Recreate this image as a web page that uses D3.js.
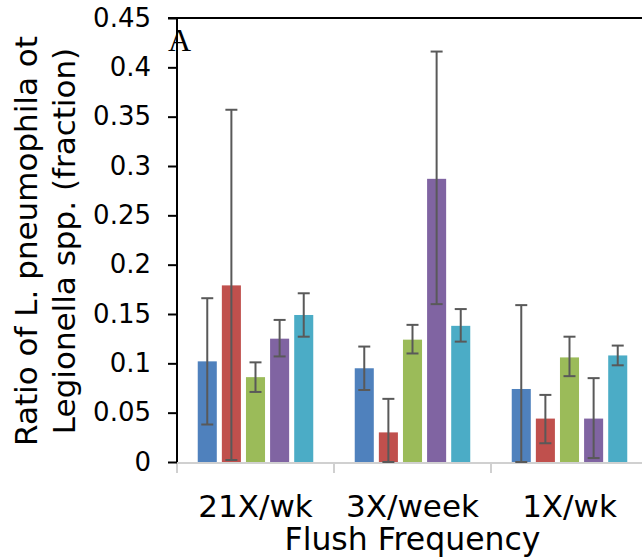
<!DOCTYPE html>
<html>
<head>
<meta charset="utf-8">
<script src="https://cdn.jsdelivr.net/npm/d3@7"></script>
<style>
  html, body { margin: 0; padding: 0; background: #fff; }
  svg { display: block; }
  text { fill: #000; }
</style>
</head>
<body>
<svg id="chart" width="642" height="559"></svg>
<script>
(function () {
  // ---------- data ----------
  const categories = ["21X/wk", "3X/week", "1X/wk"];
  const series = ["S1", "S2", "S3", "S4", "S5"];
  const colors = ["#4F81BD", "#C0504D", "#9BBB59", "#8064A2", "#4BACC6"];

  // mean value per series, one entry per category
  const means = [
    [0.102, 0.095, 0.074],
    [0.179, 0.030, 0.044],
    [0.086, 0.124, 0.106],
    [0.125, 0.287, 0.044],
    [0.149, 0.138, 0.108]
  ];
  // error bar top / bottom
  const errHigh = [
    [0.166, 0.117, 0.159],
    [0.357, 0.064, 0.068],
    [0.101, 0.139, 0.127],
    [0.144, 0.416, 0.085],
    [0.171, 0.155, 0.118]
  ];
  const errLow = [
    [0.038, 0.073, 0.000],
    [0.002, 0.000, 0.019],
    [0.071, 0.110, 0.087],
    [0.107, 0.160, 0.004],
    [0.127, 0.122, 0.098]
  ];
  const yTicks = [0, 0.05, 0.1, 0.15, 0.2, 0.25, 0.3, 0.35, 0.4, 0.45];

  // ---------- layout ----------
  const svg = d3.select("#chart");
  const left = 177, top = 18, bottom = 462, right = 648;

  const x = d3.scaleBand().domain(categories).range([left, right]).padding(0);
  const xs = d3.scaleBand().domain(series).range([0, x.bandwidth()])
    .paddingInner(0.21).paddingOuter(0.86);
  const y = d3.scaleLinear().domain([0, 0.45]).range([bottom, top]);

  // top frame line
  svg.append("line")
    .attr("x1", left - 9).attr("x2", 642)
    .attr("y1", top).attr("y2", top)
    .attr("stroke", "#000").attr("stroke-width", 2);

  // bars
  const rows = [];
  series.forEach((s, si) => {
    categories.forEach((c, ci) => {
      rows.push({ s, si, c, v: means[si][ci], hi: errHigh[si][ci], lo: errLow[si][ci] });
    });
  });

  svg.append("g").selectAll("rect").data(rows).join("rect")
    .attr("x", d => x(d.c) + xs(d.s))
    .attr("y", d => y(d.v))
    .attr("width", xs.bandwidth())
    .attr("height", d => y(0) - y(d.v))
    .attr("fill", d => colors[d.si]);

  // x axis (grey)
  const xAxis = svg.append("g");
  xAxis.append("line")
    .attr("x1", left).attr("x2", right)
    .attr("y1", bottom + 1).attr("y2", bottom + 1)
    .attr("stroke", "#d0d0d0").attr("stroke-width", 2);
  xAxis.selectAll("line.tk").data(categories).join("line")
    .attr("class", "tk")
    .attr("x1", d => x(d)).attr("x2", d => x(d))
    .attr("y1", bottom).attr("y2", bottom + 11)
    .attr("stroke", "#d0d0d0").attr("stroke-width", 2);
  xAxis.selectAll("text").data(categories).join("text")
    .attr("x", d => x(d) + x.bandwidth() / 2)
    .attr("y", 517)
    .attr("text-anchor", "middle")
    .style("font-family", "'DejaVu Sans', Verdana, sans-serif")
    .style("font-size", "31px")
    .text(d => d);

  // error bars
  const eb = svg.append("g").attr("stroke", "#595959").attr("stroke-width", 2);
  rows.forEach(d => {
    const cx = x(d.c) + xs(d.s) + xs.bandwidth() / 2;
    eb.append("line").attr("x1", cx).attr("x2", cx).attr("y1", y(d.hi)).attr("y2", y(d.lo));
    eb.append("line").attr("x1", cx - 6).attr("x2", cx + 6).attr("y1", y(d.hi)).attr("y2", y(d.hi));
    eb.append("line").attr("x1", cx - 6).attr("x2", cx + 6).attr("y1", y(d.lo)).attr("y2", y(d.lo));
  });

  // y axis
  const yAxis = svg.append("g").attr("transform", `translate(${left},0)`)
    .call(d3.axisLeft(y).tickValues(yTicks).tickSize(9).tickPadding(17)
      .tickFormat(d => d3.format("~g")(d)));
  yAxis.select(".domain").attr("stroke", "#000").attr("stroke-width", 2)
    .attr("d", `M0,${top}V${bottom}`);
  yAxis.selectAll(".tick line").attr("stroke", "#000").attr("stroke-width", 2);
  yAxis.selectAll(".tick text")
    .style("font-family", "'DejaVu Sans', Verdana, sans-serif")
    .style("font-size", "26px")
    .attr("fill", "#000");

  // panel letter
  svg.append("text")
    .attr("x", 168).attr("y", 51)
    .style("font-family", "'Liberation Serif', 'Times New Roman', serif")
    .style("font-size", "32px")
    .text("A");

  // axis titles
  svg.append("text")
    .attr("x", (left + right) / 2).attr("y", 550)
    .attr("text-anchor", "middle")
    .style("font-family", "'DejaVu Sans', Verdana, sans-serif")
    .style("font-size", "31.5px")
    .text("Flush Frequency");

  const yTitle = ["Ratio of L. pneumophila ot", "Legionella spp. (fraction)"];
  svg.append("g").selectAll("text").data(yTitle).join("text")
    .attr("transform", (d, i) => `translate(${37 + i * 38},${241}) rotate(-90)`)
    .attr("text-anchor", "middle")
    .style("font-family", "'DejaVu Sans', Verdana, sans-serif")
    .style("font-size", "31px")
    .text(d => d);
})();
</script>
</body>
</html>
